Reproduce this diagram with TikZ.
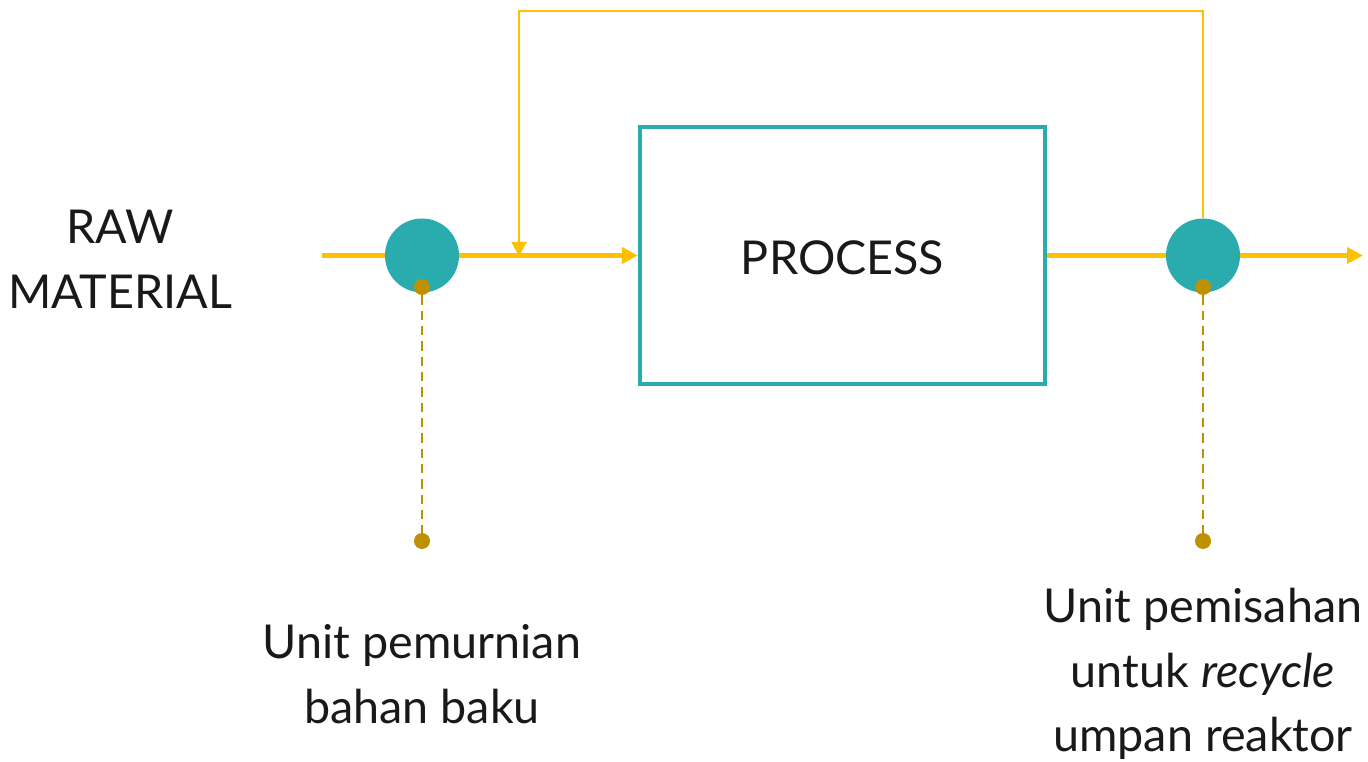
\documentclass[tikz,border=0pt]{standalone}
\usepackage{fontspec}
\setmainfont{Lato}
\usetikzlibrary{arrows.meta}
\definecolor{tealc}{HTML}{2AABAD}
\definecolor{flow}{HTML}{FFC000}
\definecolor{probe}{HTML}{BF9000}
\tikzset{
  unitdot/.style={circle, fill=tealc, minimum size=55.5pt, inner sep=0},
  tapdot/.style={circle, fill=probe, minimum size=12pt, inner sep=0},
  mainflow/.style={draw=flow, line width=4pt, -{Triangle[length=12pt,width=12pt]}},
  mainline/.style={draw=flow, line width=4pt},
  recyc/.style={draw=flow, line width=2.2pt, -{Triangle[length=11pt,width=11pt]}},
  tapline/.style={draw=probe, line width=1.6pt, dash pattern=on 7pt off 4.5pt},
  lbl/.style={font=\fontsize{35}{48.5}\selectfont, align=center, text=black!90, inner sep=0},
}
\begin{document}
\begin{tikzpicture}[x=0.75pt, y=-0.75pt]
  \useasboundingbox (0,0) rectangle (1368,762);
  % reactor block
  \node[draw=tealc, line width=3.2pt, minimum width=405*0.75pt, minimum height=257*0.75pt, inner sep=0] (proc) at (842.5,255.5) {};
  \node[lbl] (proctext) at (842.5,258) {PROCESS};
  % separation units
  \node[unitdot] (pur) at (422,255.5) {};
  \node[unitdot] (sep) at (1203,255.5) {};
  % feed / product
  \coordinate (feed) at (322,255.5);
  \coordinate (out) at (1363,255.5);
  \coordinate (mix) at (519,255.5);
  \coordinate (c1) at (1203,11);
  \coordinate (c2) at (519,11);
  \draw[mainline] (feed) -- (pur.west);
  \draw[mainflow] (pur.east) -- (proc.west |- pur.east);
  \draw[mainline] (proc.east |- sep.west) -- (sep.west);
  \draw[mainflow] (sep.east) -- (out);
  % recycle loop
  \draw[recyc] (sep.north) -- (c1) -- (c2) -- ([yshift=-0.8pt]mix);
  % tap points
  \node[tapdot] (pt1) at (422,287) {};
  \node[tapdot] (pb1) at (422,541) {};
  \node[tapdot] (pt2) at (1203,287) {};
  \node[tapdot] (pb2) at (1203,541) {};
  \draw[tapline] (pt1) -- (pb1);
  \draw[tapline] (pt2) -- (pb2);
  % labels
  \node[lbl] (raw) at (120,259) {RAW\\MATERIAL};
  \node[lbl] (lpur) at (422,674) {Unit pemurnian\\bahan baku};
  \node[lbl] (lsep) at (1203,674) {Unit pemisahan\\untuk \textit{recycle}\\umpan reaktor};
\end{tikzpicture}
\end{document}
